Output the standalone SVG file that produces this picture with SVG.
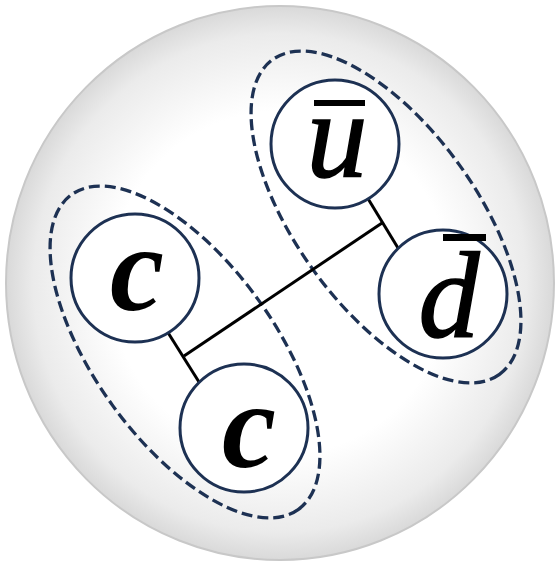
<svg xmlns="http://www.w3.org/2000/svg" width="559" height="565" viewBox="0 0 559 565">
<defs>
<radialGradient id="bg" cx="50%" cy="50%" r="50%">
<stop offset="0" stop-color="#ffffff"/>
<stop offset="0.62" stop-color="#ffffff"/>
<stop offset="0.9" stop-color="#ebebeb"/>
<stop offset="1" stop-color="#d9d9d9"/>
</radialGradient>
<style>
.q{fill:#ffffff;stroke:#1d3153;stroke-width:3}
.grp{fill:none;stroke:#1d3153;stroke-width:3.3;stroke-dasharray:11 5}
.ln{stroke:#000000;stroke-width:3;fill:none}
.t{font-family:"Liberation Serif","DejaVu Serif",serif;font-style:italic;font-size:122px;fill:#000000;text-anchor:middle}
.b{font-weight:bold}
.th{stroke:#000000;stroke-width:1.5}
.bar{fill:#000000}
</style>
</defs>
<ellipse id="hadron" cx="280" cy="283" rx="274" ry="277" fill="url(#bg)" stroke="#c8c8c8" stroke-width="2"/>
<g id="groups">
<ellipse class="grp" cx="185" cy="352" rx="194" ry="90" transform="rotate(54.2 185 352)"/>
<ellipse class="grp" cx="386" cy="217" rx="194" ry="90" transform="rotate(54.2 386 217)"/>
</g>
<g id="connectors">
<line class="ln" x1="167" y1="331" x2="199" y2="382"/>
<line class="ln" x1="367" y1="197" x2="398" y2="248"/>
<line class="ln" x1="184" y1="356" x2="382" y2="223"/>
</g>
<g id="c1">
<circle class="q" cx="135" cy="278" r="64"/>
<text class="t b" x="137" y="310">c</text>
</g>
<g id="c2">
<circle class="q" cx="244" cy="428" r="64"/>
<text class="t b" x="249" y="467">c</text>
</g>
<g id="ubar">
<circle class="q" cx="335" cy="144" r="64"/>
<text class="t th" x="337" y="177">u</text>
<rect class="bar" x="314" y="100" width="51" height="6"/>
</g>
<g id="dbar">
<circle class="q" cx="443" cy="294" r="64"/>
<text class="t th" x="449" y="337">d</text>
<rect class="bar" x="443" y="234" width="43" height="7"/>
</g>
</svg>
